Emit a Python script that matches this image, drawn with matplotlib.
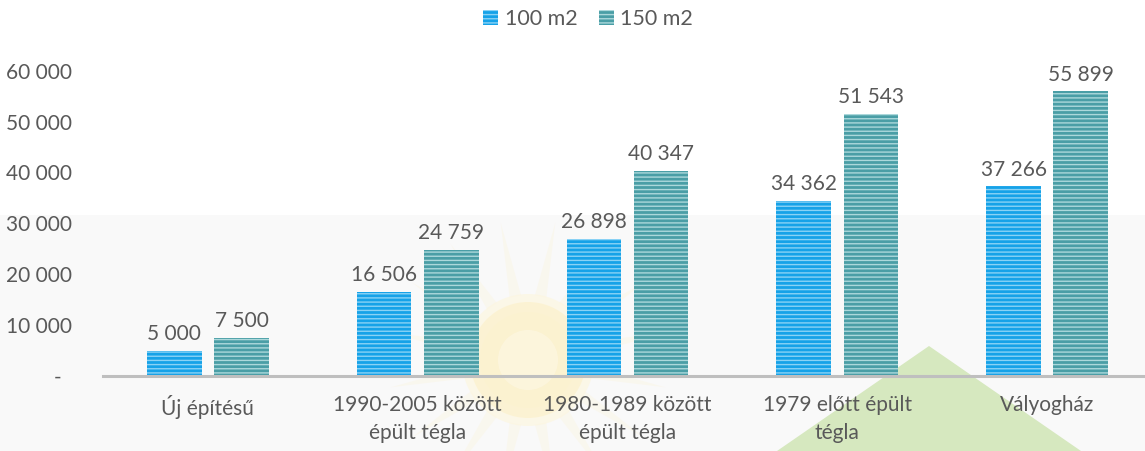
import numpy as np
import matplotlib.pyplot as plt
from matplotlib.patches import Rectangle, Polygon, Circle

plt.rcParams['font.family'] = ['Lato', 'DejaVu Sans']

kategoriak = ["Új építésű", "1990-2005 között\népült tégla", "1980-1989 között\népült tégla",
              "1979 előtt épült\ntégla", "Vályogház"]
m100 = [5000, 16506, 26898, 34362, 37266]
m150 = [7500, 24759, 40347, 51543, 55899]
sorozatok = ["100 m2", "150 m2"]
yticks = [0, 10000, 20000, 30000, 40000, 50000, 60000]

szoveg = "#595959"

fig = plt.figure(figsize=(11.45, 4.51), dpi=100)

# halvany hatter pixel koordinatakban (szurke sav, nap, zold haromszog)
bg = fig.add_axes([0, 0, 1, 1], zorder=-1)
bg.set_xlim(0, 1145)
bg.set_ylim(451, 0)
bg.axis("off")
bg.add_patch(Rectangle((0, 215), 1145, 236, color="#f9f9f9", lw=0))
for k in range(16):
    a = k * np.pi / 8 + np.pi / 16
    r1, r2, dw = 65, 140, 0.09
    pts = [(528 + r1 * np.cos(a - dw), 360 + r1 * np.sin(a - dw)),
           (528 + r2 * np.cos(a), 360 + r2 * np.sin(a)),
           (528 + r1 * np.cos(a + dw), 360 + r1 * np.sin(a + dw))]
    bg.add_patch(Polygon(pts, closed=True, color="#fcf3d6", alpha=0.3, lw=0))
for r, c, al in [(66, "#fdf6dc", 0.6), (58, "#fcf0c6", 0.6), (48, "#fcf2cf", 0.7), (30, "#fdf6e0", 0.8)]:
    bg.add_patch(Circle((528, 360), r, color=c, alpha=al, lw=0))
bg.add_patch(Polygon([(929, 346), (777, 451), (1081, 451)], closed=True,
                     color="#d6e8bf", lw=0))

ax = fig.add_axes([103 / 1145, 75 / 451, 1 - 103 / 1145, 321 / 451])
ax.patch.set_alpha(0)

x = np.arange(len(kategoriak))
w = 0.26
b1 = ax.bar(x - 0.16, m100, w, color="#16a2e8", edgecolor="#8ad2f5", hatch="----",
            linewidth=0, label=sorozatok[0])
b2 = ax.bar(x + 0.16, m150, w, color="#4a9ea6", edgecolor="#acd8db", hatch="----",
            linewidth=0, label=sorozatok[1])

def fmt(v):
    return f"{v:,}".replace(",", " ")

for bars, vals in [(b1, m100), (b2, m150)]:
    for b, v in zip(bars, vals):
        ax.text(b.get_x() + b.get_width() / 2, v + 1300, fmt(v), ha="center", va="bottom",
                fontsize=15, color=szoveg)

ax.set_xlim(-0.5, 4.5 - 7 / 210)
ax.set_ylim(0, 63070)
ax.set_yticks(yticks)
ax.set_yticklabels(["-  "] + [fmt(v) for v in yticks[1:]])
ax.set_xticks(x)
ax.set_xticklabels(kategoriak, linespacing=1.45)
ax.tick_params(axis="y", length=0, pad=22, labelsize=15, labelcolor=szoveg)
ax.tick_params(axis="x", length=0, pad=14, labelsize=15, labelcolor=szoveg)
for s in ["top", "right", "left"]:
    ax.spines[s].set_visible(False)
ax.spines["bottom"].set_color("#bfbfbf")
ax.spines["bottom"].set_linewidth(2.2)

fig.legend(handles=[b1, b2], labels=sorozatok, loc="center", bbox_to_anchor=(588 / 1145, 1 - 19 / 451),
           ncol=2, frameon=False, fontsize=15.5, labelcolor=szoveg, handlelength=0.7,
           handleheight=0.7, handletextpad=0.3, columnspacing=1.0)

fig.savefig("out.png", dpi=100)
